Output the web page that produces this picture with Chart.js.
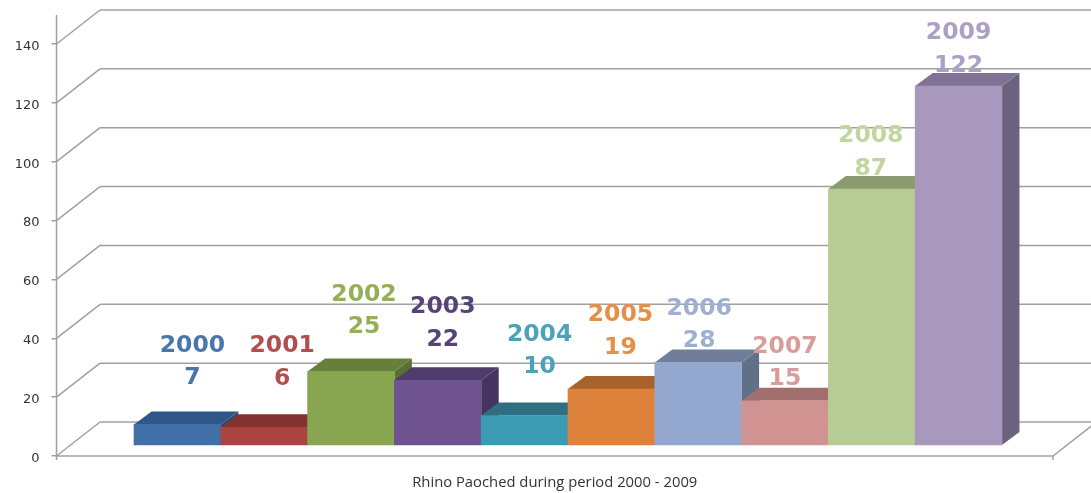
<!DOCTYPE html>
<html>
<head>
<meta charset="utf-8">
<title>Rhino Paoched</title>
<script src="https://cdn.jsdelivr.net/npm/chart.js@4"></script>
<style>
  html, body { margin: 0; padding: 0; background: #fff; }
  canvas { display: block; }
</style>
</head>
<body>
<canvas id="RHINOCHART" width="1091" height="493"></canvas>
<script>
const years = [2000, 2001, 2002, 2003, 2004, 2005, 2006, 2007, 2008, 2009];
const poached = [7, 6, 25, 22, 10, 19, 28, 15, 87, 122];
const yTicks = [0, 20, 40, 60, 80, 100, 120, 140];
const xTitle = 'Rhino Paoched during period 2000 - 2009';

const frontColors = ['#4170a9', '#a94442', '#88a64f', '#6f5391', '#3d9ab3', '#dd823b', '#94a8cf', '#d19392', '#b7cc94', '#a898bd'];
const topColors = ['#2f5787', '#823330', '#667f3a', '#503b6d', '#2e6f82', '#a8622b', '#6f7f9b', '#a16f6e', '#8b9b6f', '#7f7294'];
const sideColors = ['#2a4d78', '#722c2a', '#5a7033', '#463460', '#285f70', '#945625', '#617089', '#8d6160', '#7a8962', '#6c6280'];
const textColors = ['#4a76ab', '#b04f4d', '#93b058', '#56437a', '#4aa3b8', '#e68f47', '#9db0d2', '#d89c9b', '#c2d5a0', '#ada0c4'];

// labels were placed by hand in the original, so each one has its own nudge from the bar top
const labelDx = [15, 18, 13, 5, 15, 9, 1, 0, -1, 0];
const labelDy = [-46.5, -48.5, -44.5, -40.5, -48.5, -41.5, -21.5, -21.5, -20.5, -20.5];

const gridColor = 'rgb(160, 160, 160)';
const wallDx = 43.5, wallDy = 34;
const barDx = 17.5, barDy = 13;

function line(c, x1, y1, x2, y2) {
  c.beginPath();
  c.moveTo(x1, y1);
  c.lineTo(x2, y2);
  c.stroke();
}

function poly(c, pts, color) {
  c.fillStyle = color;
  c.beginPath();
  pts.forEach((p, i) => i ? c.lineTo(p[0], p[1]) : c.moveTo(p[0], p[1]));
  c.closePath();
  c.fill();
}

const walls = {
  id: 'walls',
  beforeDatasetsDraw(chart) {
    const c = chart.ctx, a = chart.chartArea, y = chart.scales.y;
    c.save();
    c.strokeStyle = gridColor;
    c.lineWidth = 1.5;
    yTicks.forEach(v => {
      const py = y.getPixelForValue(v);
      line(c, a.left, py, a.left + wallDx, py - wallDy);
      line(c, a.left + wallDx, py - wallDy, chart.width, py - wallDy);
    });
    line(c, a.left, 15, a.left, a.bottom + 4);
    line(c, a.left, a.bottom, a.right, a.bottom);
    line(c, a.right, a.bottom + 4, a.right, a.bottom);
    line(c, a.right, a.bottom, a.right + wallDx, a.bottom - wallDy);

    // top and side of each bar, the library draws the front afterwards
    chart.getDatasetMeta(0).data.forEach((bar, i) => {
      const l = bar.x - bar.width / 2, r = bar.x + bar.width / 2;
      poly(c, [[r, bar.y], [r + barDx, bar.y - barDy], [r + barDx, bar.base - barDy], [r, bar.base]], sideColors[i]);
      poly(c, [[l, bar.y], [l + barDx, bar.y - barDy], [r + barDx, bar.y - barDy], [r, bar.y]], topColors[i]);
    });
    c.restore();
  }
};

const barLabels = {
  id: 'barLabels',
  afterDatasetsDraw(chart) {
    const c = chart.ctx;
    c.save();
    c.font = 'bold 23.5px "DejaVu Sans"';
    c.textAlign = 'center';
    c.textBaseline = 'middle';
    chart.getDatasetMeta(0).data.forEach((bar, i) => {
      const x = bar.x + labelDx[i], y = bar.y + labelDy[i];
      c.fillStyle = textColors[i];
      c.fillText(years[i], x, y - 32.5);
      c.fillText(poached[i], x, y);
    });
    c.restore();
  }
};

const rhino_chart = new Chart(document.getElementById('RHINOCHART'), {
  type: 'bar',
  data: {
    datasets: [{
      label: 'rhino poached',
      data: years.map((yr, i) => ({ x: yr, y: poached[i] })),
      backgroundColor: frontColors,
      borderWidth: 0,
      barPercentage: 1,
      categoryPercentage: 1,
      xAxisID: 'x',
      yAxisID: 'yBars'
    }]
  },
  options: {
    responsive: false,
    animation: false,
    layout: { padding: { top: 44, right: 38 } },
    plugins: { legend: { display: false }, tooltip: { enabled: false } },
    scales: {
      x: {
        type: 'linear',
        offset: false,
        min: 1998.607,
        max: 2010.088,
        afterFit(scale) { scale.height = 37; },
        grid: { display: false },
        border: { display: false },
        ticks: { display: false, stepSize: 1, includeBounds: false },
        title: {
          display: true,
          text: xTitle,
          color: '#333',
          font: { family: '"Open Sans"', size: 14.8 },
          padding: { top: 0, bottom: 1 }
        }
      },
      y: {
        min: 0,
        max: 140,
        afterFit(scale) { scale.width = 56.5; },
        border: { display: false },
        grid: { drawOnChartArea: false, color: gridColor, lineWidth: 1.5, tickLength: 5 },
        ticks: {
          stepSize: 20,
          padding: 12,
          labelOffset: 2.5,
          color: '#333',
          font: { family: '"DejaVu Sans"', size: 13 }
        }
      },
      // the bars stand on the floor, a bit in front of the zero of the axis
      yBars: { display: false, min: -3.74, max: 136.26 }
    }
  },
  plugins: [walls, barLabels]
});
</script>
</body>
</html>
